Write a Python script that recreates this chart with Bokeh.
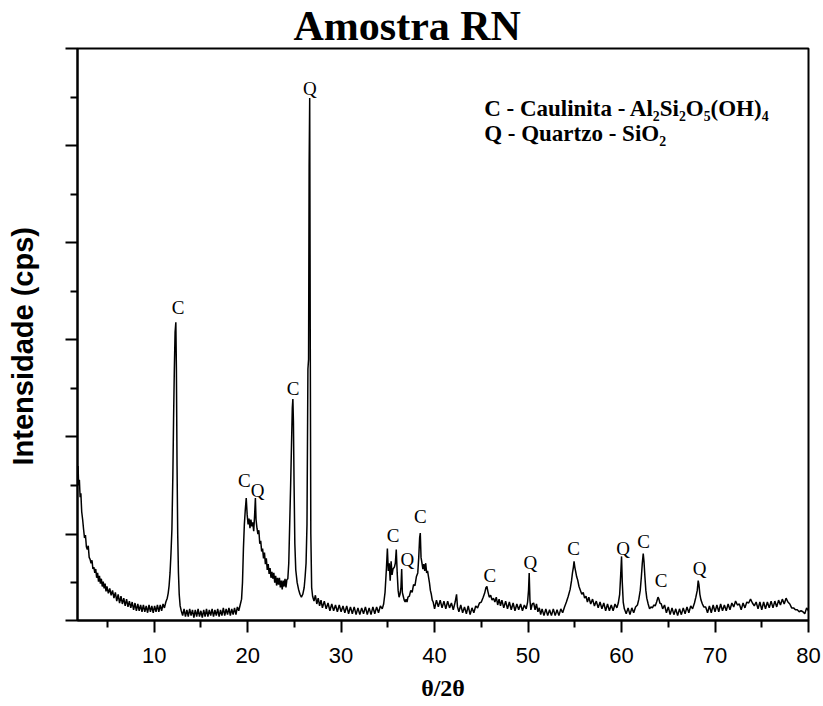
from bokeh.plotting import figure
from bokeh.models import FixedTicker, Range1d, Title, CustomJSTickFormatter
from bokeh.embed import file_html
from bokeh.resources import INLINE
from bokeh.core.properties import value

# ---------------- data ----------------
two_theta = [
    1.80, 1.86, 1.92, 2.00, 2.08, 2.16, 2.25, 2.35, 2.45, 2.55,
    2.65, 2.75, 2.85, 2.95, 3.05, 3.15, 3.25, 3.35, 3.45, 3.55,
    3.65, 3.75, 3.85, 3.95, 4.05, 4.15, 4.25, 4.35, 4.45, 4.55,
    4.65, 4.75, 4.85, 4.95, 5.10, 5.25, 5.40, 5.55, 5.70, 5.85,
    6.00, 6.15, 6.30, 6.45, 6.60, 6.75, 6.90, 7.05, 7.20, 7.35,
    7.50, 7.65, 7.80, 7.95, 8.10, 8.25, 8.40, 8.55, 8.70, 8.85,
    9.00, 9.15, 9.30, 9.45, 9.60, 9.75, 9.90, 10.05, 10.20, 10.35,
    10.50, 10.65, 10.80, 10.95, 11.10, 11.25, 11.40, 11.50, 11.60, 11.70,
    11.80, 11.90, 12.00, 12.08, 12.16, 12.24, 12.32, 12.38, 12.45, 12.52,
    12.60, 12.68, 12.78, 12.90, 13.05, 13.20, 13.35, 13.50, 13.65, 13.80,
    13.95, 14.10, 14.25, 14.40, 14.55, 14.70, 14.85, 15.00, 15.15, 15.30,
    15.45, 15.60, 15.75, 15.90, 16.05, 16.20, 16.35, 16.50, 16.65, 16.80,
    16.95, 17.10, 17.25, 17.40, 17.55, 17.70, 17.85, 18.00, 18.15, 18.30,
    18.45, 18.60, 18.75, 18.90, 19.05, 19.20, 19.35, 19.45, 19.55, 19.65,
    19.75, 19.85, 19.95, 20.05, 20.15, 20.25, 20.35, 20.45, 20.55, 20.65,
    20.75, 20.83, 20.90, 21.00, 21.10, 21.20, 21.30, 21.40, 21.50, 21.60,
    21.70, 21.80, 21.90, 22.00, 22.10, 22.20, 22.30, 22.40, 22.50, 22.60,
    22.70, 22.80, 22.90, 23.00, 23.10, 23.20, 23.30, 23.40, 23.50, 23.60,
    23.70, 23.80, 23.90, 24.00, 24.10, 24.20, 24.30, 24.40, 24.50, 24.60,
    24.70, 24.78, 24.84, 24.90, 24.97, 25.05, 25.15, 25.30, 25.45, 25.60,
    25.75, 25.90, 26.05, 26.15, 26.25, 26.35, 26.45, 26.52, 26.58, 26.64,
    26.70, 26.76, 26.85, 26.95, 27.10, 27.25, 27.40, 27.55, 27.70, 27.85,
    28.00, 28.20, 28.40, 28.60, 28.80, 29.00, 29.20, 29.40, 29.60, 29.80,
    30.00, 30.20, 30.40, 30.60, 30.80, 31.00, 31.20, 31.40, 31.60, 31.80,
    32.00, 32.20, 32.40, 32.60, 32.80, 33.00, 33.20, 33.40, 33.60, 33.80,
    34.00, 34.20, 34.40, 34.55, 34.70, 34.85, 34.95, 35.05, 35.15, 35.25,
    35.35, 35.45, 35.55, 35.70, 35.80, 35.90, 36.00, 36.10, 36.20, 36.30,
    36.40, 36.48, 36.55, 36.65, 36.75, 36.85, 36.95, 37.05, 37.15, 37.30,
    37.45, 37.60, 37.75, 37.90, 38.05, 38.20, 38.30, 38.40, 38.47, 38.55,
    38.65, 38.75, 38.85, 38.95, 39.05, 39.15, 39.25, 39.35, 39.45, 39.55,
    39.65, 39.75, 39.85, 40.00, 40.20, 40.40, 40.60, 40.80, 41.00, 41.20,
    41.40, 41.60, 41.80, 42.00, 42.20, 42.35, 42.45, 42.60, 42.80, 43.00,
    43.20, 43.40, 43.60, 43.80, 44.00, 44.20, 44.40, 44.60, 44.80, 45.00,
    45.20, 45.35, 45.50, 45.60, 45.70, 45.85, 46.00, 46.15, 46.30, 46.45,
    46.60, 46.75, 46.90, 47.05, 47.20, 47.40, 47.60, 47.80, 48.00, 48.20,
    48.40, 48.60, 48.80, 49.00, 49.20, 49.40, 49.60, 49.80, 49.95, 50.05,
    50.12, 50.20, 50.30, 50.45, 50.60, 50.75, 50.90, 51.05, 51.20, 51.35,
    51.50, 51.70, 51.90, 52.10, 52.30, 52.50, 52.70, 52.90, 53.10, 53.30,
    53.50, 53.70, 53.90, 54.10, 54.30, 54.50, 54.65, 54.75, 54.85, 54.92,
    55.00, 55.10, 55.20, 55.30, 55.45, 55.60, 55.75, 55.90, 56.05, 56.20,
    56.35, 56.50, 56.70, 56.90, 57.10, 57.30, 57.50, 57.70, 57.90, 58.10,
    58.30, 58.50, 58.70, 58.90, 59.10, 59.30, 59.50, 59.65, 59.80, 59.92,
    60.00, 60.08, 60.18, 60.30, 60.50, 60.70, 60.90, 61.10, 61.30, 61.50,
    61.70, 61.85, 62.00, 62.12, 62.22, 62.32, 62.40, 62.50, 62.60, 62.70,
    62.85, 63.00, 63.15, 63.30, 63.45, 63.60, 63.75, 63.90, 64.00, 64.10,
    64.25, 64.40, 64.60, 64.80, 65.00, 65.20, 65.40, 65.60, 65.80, 66.00,
    66.20, 66.40, 66.60, 66.80, 67.00, 67.20, 67.40, 67.60, 67.80, 67.95,
    68.10, 68.20, 68.28, 68.38, 68.50, 68.65, 68.80, 69.00, 69.20, 69.40,
    69.60, 69.80, 70.00, 70.20, 70.40, 70.60, 70.80, 71.00, 71.20, 71.40,
    71.60, 71.80, 72.00, 72.20, 72.40, 72.60, 72.80, 73.00, 73.20, 73.40,
    73.60, 73.80, 74.00, 74.20, 74.40, 74.60, 74.80, 75.00, 75.20, 75.40,
    75.60, 75.80, 76.00, 76.20, 76.40, 76.60, 76.80, 77.00, 77.20, 77.40,
    77.60, 77.80, 78.00, 78.20, 78.40, 78.60, 78.80, 79.00, 79.20, 79.40,
    79.60, 79.80, 80.00,
]

intensity = [
    1560, 1700, 1500, 1560, 1380, 1420, 1230, 1150, 1050, 960,
    990, 870, 840, 880, 760, 740, 700, 730, 640, 660,
    600, 640, 550, 600, 510, 570, 490, 540, 460, 510,
    440, 490, 410, 460, 390, 440, 370, 420, 340, 400,
    310, 380, 290, 360, 280, 340, 260, 330, 250, 310,
    240, 300, 220, 290, 210, 280, 210, 270, 200, 270,
    200, 260, 190, 270, 200, 260, 190, 260, 200, 270,
    200, 270, 210, 280, 240, 300, 340, 390, 470, 600,
    800, 1050, 1600, 2200, 2700, 3080, 3180, 2700, 1700, 1000,
    600, 380, 260, 210, 160, 230, 150, 220, 150, 230,
    160, 220, 140, 220, 150, 230, 150, 210, 140, 220,
    150, 230, 150, 220, 160, 230, 150, 220, 160, 230,
    150, 220, 160, 240, 160, 230, 170, 240, 160, 230,
    170, 240, 170, 250, 210, 270, 330, 500, 850, 1100,
    1250, 1370, 1200, 1100, 1160, 1060, 1150, 1080, 1120, 1030,
    1200, 1370, 1150, 1060, 1000, 1040, 900, 930, 820, 850,
    750, 810, 690, 750, 630, 690, 590, 650, 550, 610,
    540, 600, 500, 570, 470, 550, 480, 550, 450, 520,
    430, 520, 460, 540, 450, 530, 540, 700, 1100, 1500,
    1950, 2300, 2390, 2150, 1500, 900, 630, 500, 430, 380,
    350, 380, 450, 560, 700, 1100, 2700, 2800, 4800, 5490,
    3000, 1000, 450, 360, 310, 370, 280, 340, 260, 320,
    240, 310, 230, 290, 210, 280, 210, 270, 200, 270,
    200, 260, 190, 260, 180, 250, 180, 250, 170, 240,
    170, 240, 180, 250, 170, 240, 170, 250, 180, 250,
    190, 260, 230, 280, 400, 650, 850, 620, 700, 520,
    720, 580, 640, 660, 700, 840, 600, 420, 350, 380,
    450, 640, 400, 360, 320, 300, 330, 300, 350, 360,
    420, 400, 480, 470, 560, 600, 750, 960, 1010, 760,
    700, 640, 690, 620, 700, 600, 620, 560, 500, 420,
    380, 320, 300, 230, 320, 250, 320, 240, 310, 230,
    310, 240, 290, 220, 300, 380, 250, 200, 270, 190,
    250, 180, 260, 170, 240, 190, 260, 240, 290, 300,
    350, 390, 450, 460, 410, 350, 370, 320, 340, 300,
    350, 270, 330, 260, 320, 240, 310, 230, 300, 220,
    290, 210, 280, 220, 280, 210, 270, 230, 300, 420,
    600, 320, 220, 280, 290, 220, 280, 200, 240, 170,
    230, 160, 230, 160, 220, 160, 230, 160, 220, 160,
    230, 190, 250, 300, 360, 430, 520, 600, 660, 720,
    660, 610, 560, 530, 460, 420, 380, 400, 340, 360,
    300, 350, 280, 330, 260, 310, 240, 300, 230, 290,
    210, 280, 210, 270, 210, 280, 240, 290, 380, 600,
    770, 500, 300, 230, 180, 240, 170, 240, 190, 250,
    270, 330, 420, 560, 700, 800, 720, 560, 420, 340,
    280, 230, 250, 240, 270, 260, 300, 350, 330, 290,
    280, 230, 270, 190, 250, 170, 240, 170, 230, 160,
    230, 170, 240, 180, 250, 190, 260, 230, 290, 350,
    420, 520, 480, 380, 320, 280, 250, 250, 190, 260,
    190, 270, 200, 270, 200, 280, 210, 270, 210, 280,
    220, 290, 250, 310, 270, 280, 220, 290, 240, 300,
    290, 330, 290, 260, 300, 230, 300, 220, 300, 230,
    300, 240, 310, 240, 310, 250, 320, 270, 330, 280,
    340, 300, 280, 240, 240, 220, 220, 200, 210, 200,
    180, 240, 210,
]

peak_x = [12.57, 19.66, 21.08, 24.87, 26.65, 35.56, 37.10, 38.48,
          45.90, 50.25, 54.88, 60.16, 62.37, 64.23, 68.36]
peak_y = [3333, 1548, 1448, 2497, 5583, 981, 743, 1180,
          578, 705, 853, 853, 922, 526, 647]
peak_label = ["C", "C", "Q", "C", "Q", "C", "Q", "C",
              "C", "Q", "C", "Q", "C", "C", "Q"]

legend_x = [45.3, 45.3]
legend_y = [5380, 5120]
legend_text = ["C - Caulinita - Al\u2082Si\u2082O\u2085(OH)\u2084",
               "Q - Quartzo - SiO\u2082"]

x_major = [10, 20, 30, 40, 50, 60, 70, 80]
x_minor = [5, 15, 25, 35, 45, 55, 65, 75]
y_major = [110, 1000, 2000, 3000, 4000, 5000, 6000]
y_minor = [500, 1500, 2500, 3500, 4500, 5500]

# ---------------- figure ----------------
p = figure(width=823, height=706, x_range=Range1d(1.8, 80), y_range=Range1d(110, 6000),
           output_backend="svg", toolbar_location=None,
           min_border_left=77, min_border_right=15, min_border_top=48, min_border_bottom=86)
p.title = Title(text="Amostra RN", align="left", offset=216, standoff=0,
                text_font="Liberation Serif", text_font_style="bold",
                text_font_size="42px", text_color="black")
p.background_fill_color = "white"
p.border_fill_color = "white"
p.xgrid.visible = False
p.ygrid.visible = False
p.outline_line_color = "black"
p.outline_line_width = 2

p.line(two_theta, intensity, line_color="black", line_width=1.5)

p.text(x=peak_x, y=peak_y, text=peak_label, text_font=value("Liberation Serif"),
       text_font_size="19px", text_align="center", text_baseline="middle", text_color="black")

p.text(x=legend_x, y=legend_y, text=legend_text, text_font=value("Liberation Serif"),
       text_font_style="bold", text_font_size="23px", text_align="left",
       text_baseline="alphabetic", text_color="black")

for ax in (p.xaxis[0], p.yaxis[0]):
    ax.axis_line_width = 2
    ax.axis_line_color = "black"
    ax.major_tick_line_width = 2
    ax.minor_tick_line_width = 2
    ax.major_tick_in = 0
    ax.minor_tick_in = 0
    ax.major_tick_out = 12
    ax.minor_tick_out = 7

xa = p.xaxis[0]
xa.ticker = FixedTicker(ticks=x_major, minor_ticks=x_minor)
xa.major_label_text_font = "Liberation Sans"
xa.major_label_text_font_size = "22px"
xa.major_label_text_color = "black"
xa.major_label_standoff = 15
xa.axis_label = "\u03b8/2\u03b8"
xa.axis_label_text_font = "Liberation Serif"
xa.axis_label_text_font_style = "bold"
xa.axis_label_text_font_size = "24px"
xa.axis_label_text_color = "black"
xa.axis_label_standoff = 9

ya = p.yaxis[0]
ya.ticker = FixedTicker(ticks=y_major, minor_ticks=y_minor)
ya.formatter = CustomJSTickFormatter(code="return ''")
ya.major_label_standoff = 0
# blank spacer label keeps the rotated title clear of the tick marks
ya.axis_label = " "
ya.axis_label_text_font_size = "2px"
ya.axis_label_standoff = 21

ylabel = Title(text="Intensidade (cps)", align="left", offset=155, standoff=0,
               vertical_align="middle", text_font="Liberation Sans",
               text_font_style="bold", text_font_size="29px", text_color="black")
p.add_layout(ylabel, "left")

open("out.html", "w").write(file_html(p, INLINE))
